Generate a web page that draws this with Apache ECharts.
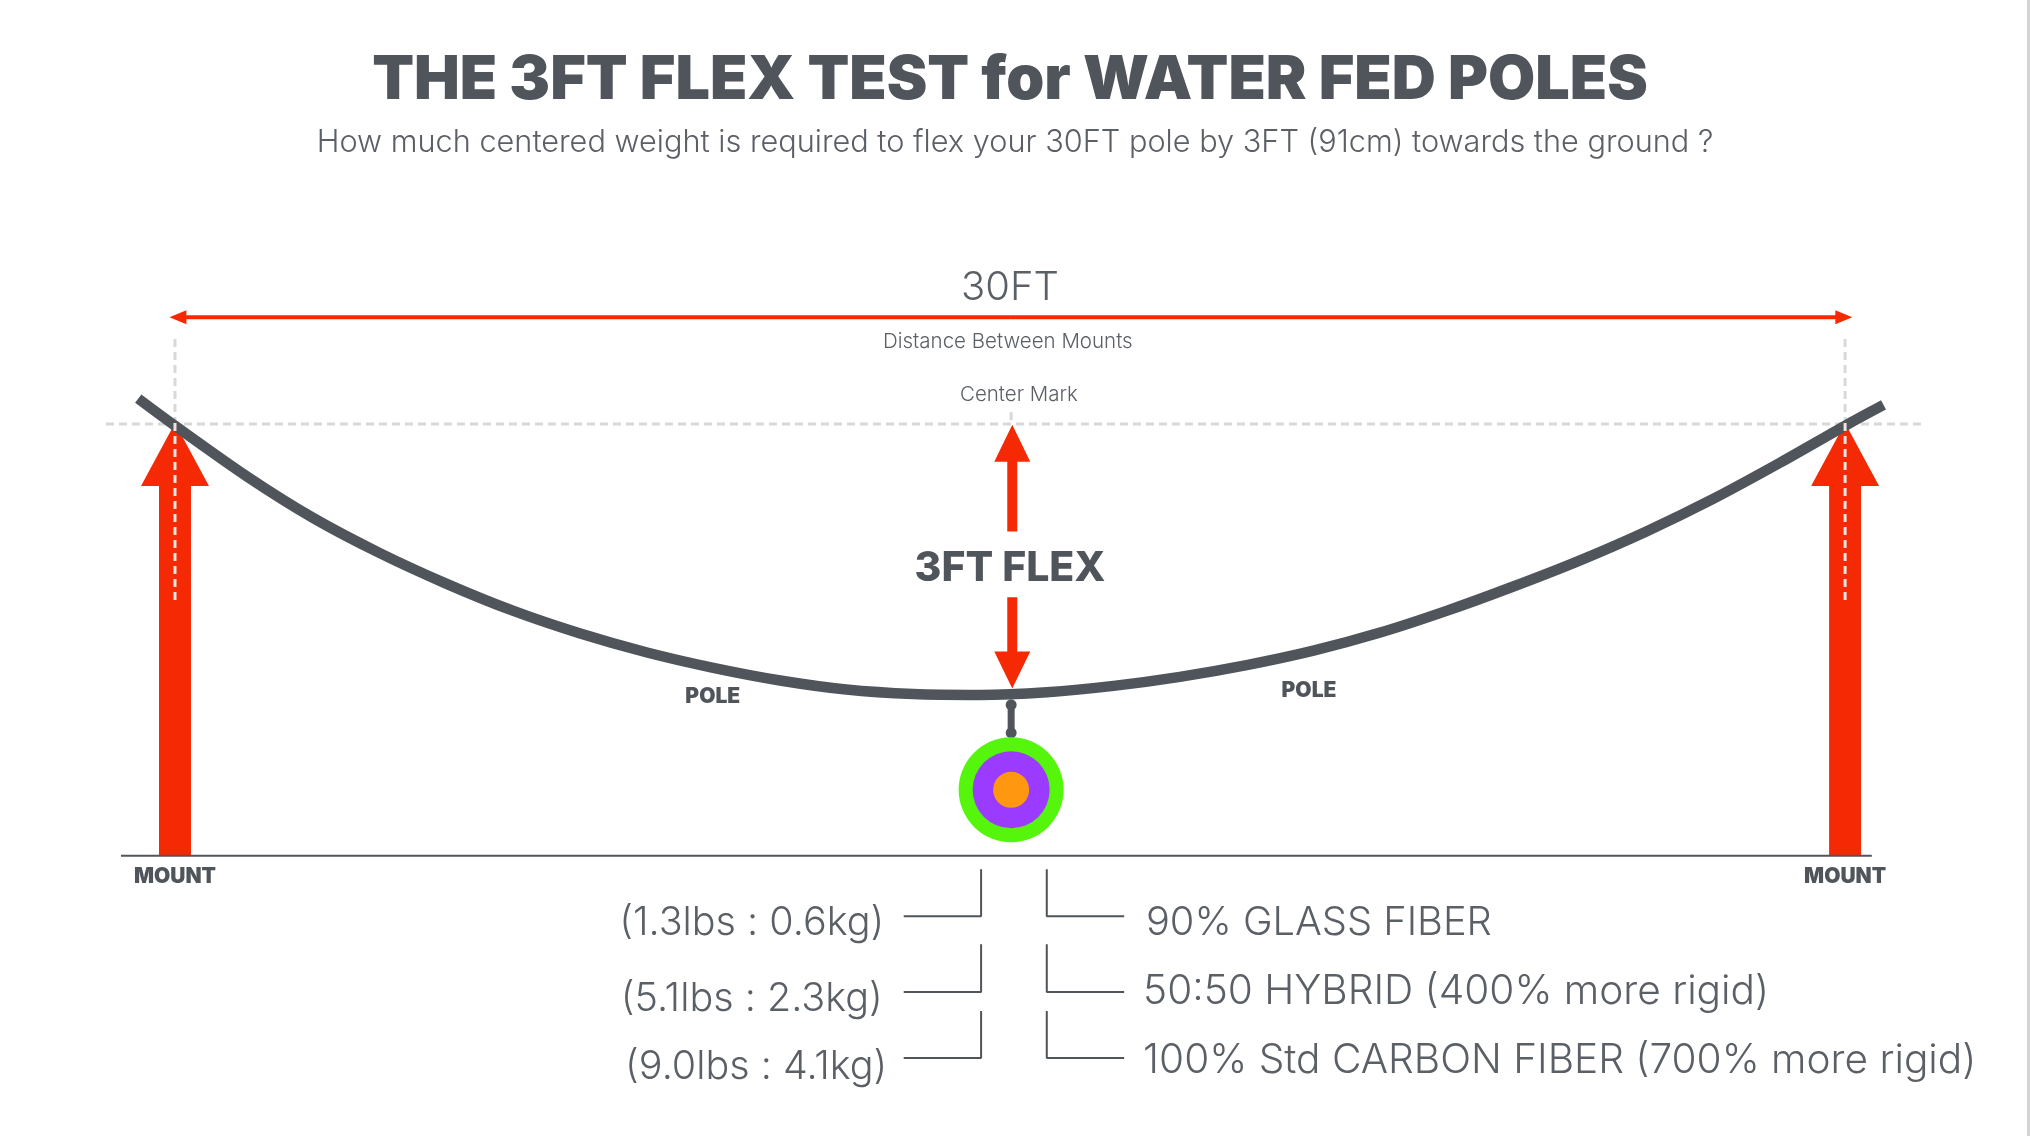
<!DOCTYPE html>
<html>
<head>
<meta charset="utf-8">
<title>3FT flex test</title>
<script src="https://cdn.jsdelivr.net/npm/echarts@6/dist/echarts.min.js"></script>
<style>
  html, body { margin: 0; padding: 0; background: #fff; }
  #main { width: 2030px; height: 1136px; }
</style>
</head>
<body>
<div id="main"></div>
<script>
// all values in feet: x along the span, y relative to the mount level
var poleCurve = [
  [-0.66, 0.27], [0, -0.03], [1.29, -0.59], [2.48, -1.05], [3.68, -1.44], [4.88, -1.78], [6.08, -2.08],
  [7.28, -2.33], [8.48, -2.54], [9.67, -2.71], [10.87, -2.85], [12.06, -2.95], [13.26, -3.0],
  [14.46, -3.01], [15.66, -2.98], [16.86, -2.91], [18.05, -2.81], [19.25, -2.68], [20.45, -2.52],
  [21.65, -2.32], [22.84, -2.08], [24.04, -1.81], [25.24, -1.52], [26.43, -1.2], [27.63, -0.84],
  [28.83, -0.44], [30.03, -0.02], [30.69, 0.2]
];
var mountLevel = [[-1.24, -0.01], [31.36, -0.01]];
var groundLine = [[-0.97, -4.79], [30.48, -4.79]];
var spanArrows = [[15, 1.17, -0.1, 1.17], [15, 1.17, 30.13, 1.17]];
var mountArrows = [[0, -4.79, 0, 0], [30, -4.79, 30, 0]];
var flexArrows = [[15.04, -1.2, 15.04, -0.02], [15.04, -1.93, 15.04, -2.94]];
var mountMarksUpper = [[[0, 0.93], [0, 0]], [[30, 0.93], [30, 0]], [[15.02, 0.12], [15.02, 0]]];
var mountMarksLower = [[[0, 0], [0, -1.96]], [[30, 0], [30, -1.96]]];
var hanger = [[15.02, -3.12], [15.02, -3.43]];

var weights = [[15.02, -4.06]];
var weightColors = ['#55f50c', '#9b3bff', '#ff9810'];
var weightSizes = [105, 77, 36];

var loadLeaderX = [13.09, 14.48];
var fiberLeaderX = [17.05, 15.66];
var leaderTops = [-4.94, -5.77, -6.51];
var leaderRows = [-5.46, -6.3, -7.03];

var loadLabels = ['(1.3lbs : 0.6kg)', '(5.1lbs : 2.3kg)', '(9.0lbs : 4.1kg)'];
var loadPositions = [[10.36, -5.54], [10.36, -6.38], [10.44, -7.13]];
var fiberLabels = ['90% GLASS FIBER', '50:50 HYBRID (400% more rigid)', '100% Std CARBON FIBER (700% more rigid)'];
var fiberPositions = [[17.44, -5.54], [17.39, -6.3], [17.39, -7.06]];
var poleLabels = ['POLE', 'POLE'];
var polePositions = [[9.66, -3.03], [20.37, -2.96]];
var mountLabels = ['MOUNT', 'MOUNT'];
var mountPositions = [[0, -5.02], [30, -5.02]];

var DARK = '#50555c';
var TEXT = '#5b6067';
var RED = '#f52a05';
var DASH = '#d8d8d8';
var FONT = 'Inter';

function arrowSeries(data, shaft, headWidth, headLength) {
  return {
    type: 'custom',
    clip: false,
    silent: true,
    encode: { x: [0, 2], y: [1, 3] },
    data: data,
    renderItem: function (params, api) {
      var a = api.coord([api.value(0), api.value(1)]);
      var b = api.coord([api.value(2), api.value(3)]);
      var dx = b[0] - a[0], dy = b[1] - a[1];
      var len = Math.sqrt(dx * dx + dy * dy);
      var ux = dx / len, uy = dy / len;
      var nx = -uy, ny = ux;
      var neck = [b[0] - ux * headLength, b[1] - uy * headLength];
      function off(p, d) { return [p[0] + nx * d, p[1] + ny * d]; }
      return {
        type: 'polygon',
        shape: { points: [
          off(a, shaft / 2), off(neck, shaft / 2), off(neck, headWidth / 2), b,
          off(neck, -headWidth / 2), off(neck, -shaft / 2), off(a, -shaft / 2)
        ] },
        style: { fill: RED }
      };
    }
  };
}

function plainLine(data, width, color, dash) {
  return {
    type: 'line',
    data: data,
    clip: false,
    silent: true,
    showSymbol: false,
    symbol: 'none',
    lineStyle: { width: width, color: color, type: dash || 'solid', cap: 'butt' }
  };
}

function textSeries(texts, positions, label) {
  return {
    type: 'scatter',
    clip: false,
    silent: true,
    symbolSize: 0,
    itemStyle: { opacity: 1 },
    data: positions.map(function (p, i) { return { value: p, label: { formatter: texts[i] } }; }),
    label: Object.assign({ show: true, position: 'inside', fontFamily: FONT, align: 'center', verticalAlign: 'middle' }, label)
  };
}

var series = [];

mountMarksUpper.forEach(function (m) { series.push(plainLine(m, 3, DASH, [8, 5])); });
series.push(plainLine(mountLevel, 3, DASH, [8, 5]));
series.push(plainLine(groundLine, 2, DARK));

series.push(arrowSeries(mountArrows, 32, 68, 63));
series.push(arrowSeries(flexArrows, 10, 36, 37));
series.push(arrowSeries(spanArrows, 4, 14, 17));

series.push(Object.assign(plainLine(poleCurve, 10.5, DARK), { smooth: 0.3, z: 3 }));
mountMarksLower.forEach(function (m) { series.push(Object.assign(plainLine(m, 3, '#f1e4e0', [8, 5]), { z: 4 })); });
series.push({
  type: 'line',
  data: hanger,
  silent: true,
  symbol: 'circle',
  symbolSize: 11,
  lineStyle: { width: 7, color: DARK },
  itemStyle: { color: DARK }
});

weightColors.forEach(function (c, i) {
  series.push({
    type: 'scatter',
    silent: true,
    data: weights,
    symbolSize: weightSizes[i],
    itemStyle: { color: c, opacity: 1 },
    z: 5 + i
  });
});

leaderRows.forEach(function (y, i) {
  series.push(plainLine([[loadLeaderX[0], y], [loadLeaderX[1], y], [loadLeaderX[1], leaderTops[i]]], 2, DARK));
  series.push(plainLine([[fiberLeaderX[0], y], [fiberLeaderX[1], y], [fiberLeaderX[1], leaderTops[i]]], 2, DARK));
});

series.push(textSeries(['30FT'], [[15, 1.5]], { fontSize: 40, fontWeight: 300, color: TEXT }));
series.push(textSeries(['Distance Between Mounts'], [[14.96, 0.9]], { fontSize: 20.5, fontWeight: 300, color: TEXT }));
series.push(textSeries(['Center Mark'], [[15.16, 0.31]], { fontSize: 20.5, fontWeight: 300, color: TEXT }));
series.push(textSeries(['3FT FLEX'], [[15, -1.61]], { fontSize: 41, fontWeight: 800, color: DARK }));
series.push(textSeries(poleLabels, polePositions, { fontSize: 21, fontWeight: 900, color: DARK }));
series.push(textSeries(mountLabels, mountPositions, { fontSize: 21, fontWeight: 900, color: DARK }));
series.push(textSeries(loadLabels, loadPositions, { fontSize: 39.5, fontWeight: 300, color: TEXT }));
series.push(textSeries(fiberLabels.slice(0, 1), fiberPositions.slice(0, 1), { fontSize: 39.8, fontWeight: 300, color: TEXT, align: 'left' }));
series.push(textSeries(fiberLabels.slice(1), fiberPositions.slice(1), { fontSize: 40.6, fontWeight: 300, color: TEXT, align: 'left' }));

var chart = echarts.init(document.getElementById('main'));
chart.setOption({
  animation: false,
  backgroundColor: '#fff',
  title: [{
    text: 'THE 3FT FLEX TEST for WATER FED POLES',
    left: 1005,
    top: 76,
    textAlign: 'center',
    textVerticalAlign: 'middle',
    textStyle: { fontFamily: FONT, fontSize: 61, fontWeight: 900, color: DARK }
  }, {
    text: 'How much centered weight is required to flex your 30FT pole by 3FT (91cm) towards the ground ?',
    left: 1010,
    top: 138,
    textAlign: 'center',
    textVerticalAlign: 'middle',
    textStyle: { fontFamily: FONT, fontSize: 30.7, fontWeight: 300, color: TEXT }
  }],
  grid: { left: 105.4, top: 197.2, width: 1823.2, height: 903.3 },
  xAxis: { type: 'value', min: -1.25, max: 31.5, show: false },
  yAxis: { type: 'value', min: -7.5, max: 2.5, show: false },
  tooltip: { show: false },
  graphic: [{ type: 'rect', right: 0, top: 0, shape: { width: 3, height: 1136 }, style: { fill: '#d4d4d4' }, silent: true }],
  series: series
});
</script>
</body>
</html>
